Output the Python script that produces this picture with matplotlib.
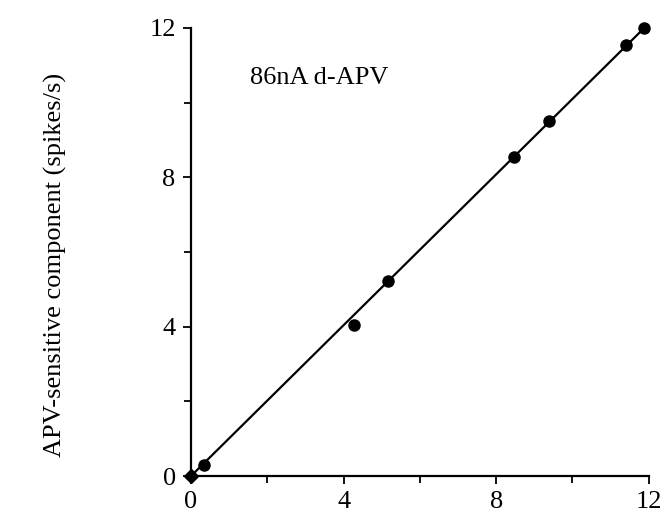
import numpy as np
import matplotlib.pyplot as plt
from matplotlib.ticker import MultipleLocator

# APV-sensitive component vs. total response (spikes/s)
x_vals = [0.34, 4.27, 5.16, 8.46, 9.38, 11.40, 11.87]
y_vals = [0.29, 4.04, 5.22, 8.55, 9.51, 11.55, 12.0]
origin = (0.0, 0.0)
fit_x = [0.0, 11.87]
fit_slope = 1.01

plt.rcParams['font.family'] = ['Liberation Serif', 'DejaVu Serif']

fig = plt.figure(figsize=(6.62, 5.18), dpi=100)
ax = fig.add_axes([0.2885, 0.081, 0.6915, 0.865])

fx = np.array(fit_x)
ax.plot(fx, fit_slope * fx, color='black', lw=1.6, clip_on=False)
ax.plot(x_vals, y_vals, 'o', color='black', ms=8, clip_on=False)
ax.plot([origin[0]], [origin[1]], 'D', color='black', ms=7, clip_on=False, zorder=5)

ax.set_xlim(0, 12)
ax.set_ylim(0, 12)
ax.xaxis.set_major_locator(MultipleLocator(4))
ax.yaxis.set_major_locator(MultipleLocator(4))
ax.xaxis.set_minor_locator(MultipleLocator(2))
ax.yaxis.set_minor_locator(MultipleLocator(2))
ax.tick_params(which='major', direction='out', length=6, width=1.3, labelsize=19, pad=5)
ax.tick_params(which='minor', direction='out', length=5, width=1.3)

for s in ['top', 'right']:
    ax.spines[s].set_visible(False)
for s in ['left', 'bottom']:
    ax.spines[s].set_linewidth(1.6)

ax.set_ylabel('APV-sensitive component (spikes/s)', fontsize=19)
ax.yaxis.set_label_coords(-0.27, 0.471)
ax.text(1.55, 10.5, '86nA d-APV', fontsize=19)

fig.savefig('out.png', dpi=100)
